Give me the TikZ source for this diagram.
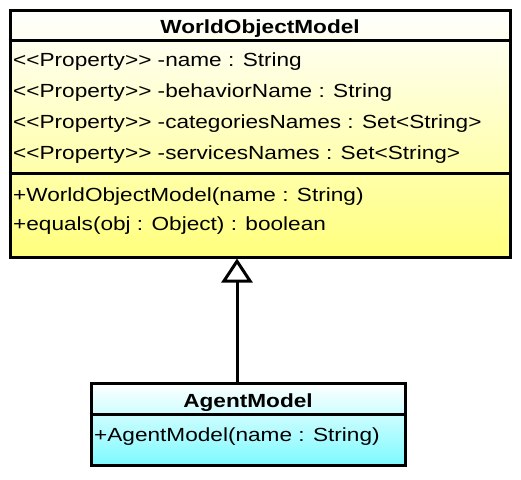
\documentclass[tikz,border=0pt]{standalone}
\usepackage{fontspec}
\newfontfamily\umlfont{Liberation Sans}[FakeStretch=1.19]
\usetikzlibrary{positioning,arrows.meta,shadows}
\definecolor{wom_yellow}{RGB}{255,255,125}
\definecolor{agent_cyan}{RGB}{125,250,255}
\tikzset{
	umlline/.style={line width=3pt},
	classbox/.style={draw,umlline,rectangle,inner sep=0pt,line join=miter,
		drop shadow={shadow xshift=2pt,shadow yshift=-2pt,opacity=.25}},
	classname/.style={anchor=base,inner sep=0pt,font=\umlfont\bfseries\fontsize{19}{22}\selectfont},
	member/.style={anchor=base west,inner sep=0pt,font=\umlfont\fontsize{19}{22}\selectfont},
}

\begin{document}
\begin{tikzpicture}[x=1pt,y=-1pt,line join=miter]
	\useasboundingbox (0,0) rectangle (521,479);
	% classes
	\node[classbox,top color=white,bottom color=wom_yellow,minimum width=500pt,minimum height=247pt] (wom) at (260,133.5) {};
	\node[classbox,top color=white,bottom color=agent_cyan,minimum width=314pt,minimum height=82pt] (agent) at (248,424) {};
	\draw[umlline] (wom.west |- 0,40) -- (wom.east |- 0,40);
	\draw[umlline] (wom.west |- 0,173) -- (wom.east |- 0,173);
	\draw[umlline] (agent.west |- 0,414) -- (agent.east |- 0,414);
	\node[classname] (womname) at (wom.north |- 0,33) {WorldObjectModel};
	\node[classname] (agentname) at (agent.north |- 0,407) {AgentModel};
	% members
	\foreach\attr [count=\i] in {{-name : String},{-behaviorName : String},
		{-categoriesNames : Set<String>},{-servicesNames : Set<String>}}
		\node[member] (womattr\i) at (13,{35+31*\i}) {<<Property>> \attr};
	\node[member] (womop1) at (13,201) {+WorldObjectModel(name : String)};
	\node[member] (womop2) at (13,230) {+equals(obj : Object) : boolean};
	\node[member] (agentop1) at (94,441) {+AgentModel(name : String)};
	% generalization
	\coordinate (gen) at (237,0);
	\draw[umlline,-{Triangle[open,fill=white,length=24pt,width=31pt]}] (gen |- agent.north) -- (gen |- wom.south);
\end{tikzpicture}
\end{document}
